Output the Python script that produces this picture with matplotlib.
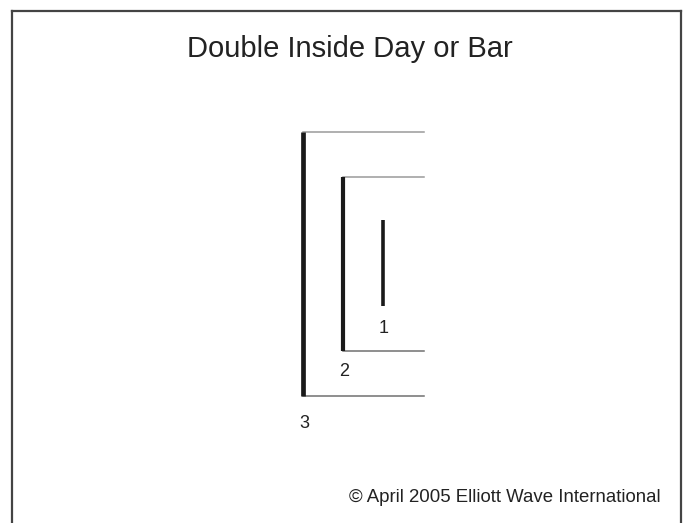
import matplotlib
matplotlib.use("Agg")
import matplotlib.pyplot as plt
from matplotlib.lines import Line2D

plt.rcParams["font.family"] = ["Liberation Sans", "DejaVu Sans"]

# Bars: outer (3), middle (2), inner (1)
bar_labels = ["3", "2", "1"]
bar_x = [0, 1, 2]
highs = [39.1, 34.65, 30.3]
lows = [12.7, 17.2, 21.7]

title = "Double Inside Day or Bar"
credit = "\u00a9 April 2005 Elliott Wave International"

W, H = 686, 523
fig = plt.figure(figsize=(W / 100, H / 100), dpi=100)
ax = fig.add_axes([0, 0, 1, 1])
ax.set_xlim(-302.7 / 40, (W - 302.7) / 40)
ax.set_ylim(0, H / 10)
ax.axis("off")

# vertical bars
bar_widths = [3.4, 3.0, 2.6]
for x, hi, lo, lw in zip(bar_x, highs, lows, bar_widths):
    ax.plot([x, x], [lo, hi], color="#1a1a1a", linewidth=lw,
            solid_capstyle="butt", zorder=3)

# horizontal extent lines for the two outer bars
right_end = 3.03
for x, hi, lo in zip(bar_x[:2], highs[:2], lows[:2]):
    ax.plot([x, right_end], [hi, hi], color="#9a9a9a", linewidth=1.1, zorder=2)
    ax.plot([x, right_end], [lo, lo], color="#707070", linewidth=1.1, zorder=2)

# bar number labels
label_offsets = [-19.5, -15, -16]
for x, lo, lab, dy in zip(bar_x, lows, bar_labels, label_offsets):
    ax.annotate(lab, (x, lo), xytext=(1, dy), textcoords="offset points",
                ha="center", va="center", fontsize=13, color="#222222")

fig.text(350 / W, 1 - 49 / H, title, ha="center", va="center",
         fontsize=21, color="#222222")
fig.text(505 / W, 1 - 497 / H, credit, ha="center", va="center",
         fontsize=13.4, color="#222222")

# frame (open at the bottom)
frame_kw = dict(color="#444444", linewidth=1.6, transform=fig.transFigure)
fig.add_artist(Line2D([11.5 / W, 11.5 / W], [0, 1 - 10.5 / H], **frame_kw))
fig.add_artist(Line2D([680.5 / W, 680.5 / W], [0, 1 - 10.5 / H], **frame_kw))
fig.add_artist(Line2D([11.5 / W, 680.5 / W], [1 - 10.5 / H, 1 - 10.5 / H], **frame_kw))

fig.savefig("out.png", dpi=100, facecolor="white")
